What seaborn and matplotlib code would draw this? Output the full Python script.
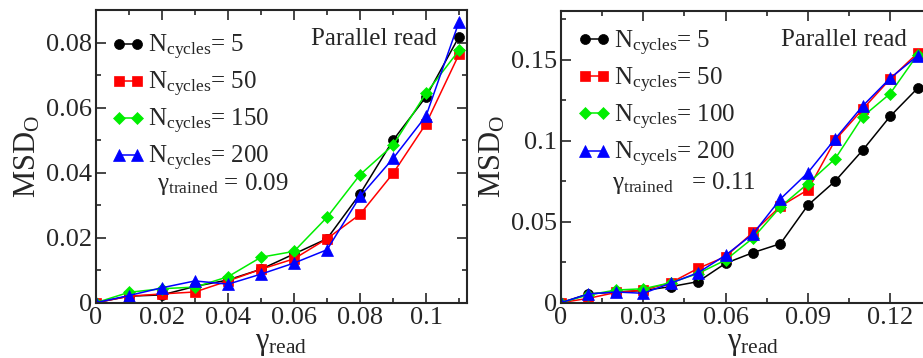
import matplotlib
matplotlib.use("Agg")
import matplotlib.pyplot as plt
from matplotlib.ticker import MultipleLocator, FuncFormatter
import seaborn as sns
import pandas as pd

# ---- data -------------------------------------------------------------
gamma_left = [0.0, 0.01, 0.02, 0.03, 0.04, 0.05, 0.06, 0.07, 0.08, 0.09, 0.10, 0.11]
left_n5 = [0, 0.0020, 0.0024, 0.0050, 0.0070, 0.0103, 0.0150, 0.0197, 0.0335, 0.0500, 0.0634, 0.0819]
left_n50 = [0, 0.0020, 0.0027, 0.0033, 0.0067, 0.0103, 0.0135, 0.0197, 0.0272, 0.0398, 0.0551, 0.0765]
left_n150 = [0, 0.0032, 0.0043, 0.0048, 0.0080, 0.0140, 0.0158, 0.0263, 0.0394, 0.0485, 0.0645, 0.0777]
left_n200 = [0, 0.0022, 0.0046, 0.0067, 0.0057, 0.0088, 0.0122, 0.0163, 0.0327, 0.0444, 0.0575, 0.0865]
left_labels = [r"N$_{\mathrm{cycles}}$= 5", r"N$_{\mathrm{cycles}}$= 50",
               r"N$_{\mathrm{cycles}}$= 150", r"N$_{\mathrm{cycles}}$= 200"]

gamma_right = [0.0, 0.01, 0.02, 0.03, 0.04, 0.05, 0.06, 0.07, 0.08, 0.09, 0.10, 0.11, 0.12, 0.13]
right_n5 = [0, 0.0054, 0.0066, 0.0075, 0.0099, 0.0130, 0.0243, 0.0309, 0.0364, 0.0601, 0.0751, 0.0941, 0.1150, 0.1323]
right_n50 = [0, 0.0027, 0.0063, 0.0078, 0.0123, 0.0212, 0.0284, 0.0434, 0.0595, 0.0696, 0.1004, 0.1194, 0.1380, 0.1540]
right_n100 = [0, 0.0048, 0.0078, 0.0086, 0.0123, 0.0180, 0.0263, 0.0399, 0.0591, 0.0735, 0.0889, 0.1148, 0.1290, 0.1530]
right_n200 = [0, 0.0054, 0.0066, 0.0058, 0.0120, 0.0185, 0.0293, 0.0424, 0.0640, 0.0802, 0.1012, 0.1214, 0.1385, 0.1523]
right_labels = [r"N$_{\mathrm{cycles}}$= 5", r"N$_{\mathrm{cycles}}$= 50",
                r"N$_{\mathrm{cycles}}$= 100", r"N$_{\mathrm{cycels}}$= 200"]

gamma_trained_left = r"γ$_{\mathrm{trained}}$ = 0.09"
gamma_trained_right = r"γ$_{\mathrm{trained}}$   = 0.11"

colors = ["black", "red", "#00ee00", "blue"]
markers = ["o", "s", "D", "^"]
msizes = [7.2, 6.6, 6.4, 8.0]

# ---- style ------------------------------------------------------------
sns.set_style("ticks")
plt.rcParams["font.family"] = ["Liberation Serif", "DejaVu Serif"]
plt.rcParams["mathtext.fontset"] = "custom"
plt.rcParams["mathtext.rm"] = "Liberation Serif"
plt.rcParams["mathtext.it"] = "Liberation Serif:italic"
plt.rcParams["axes.linewidth"] = 1.5

fig = plt.figure(figsize=(9.23, 3.58), dpi=100)
ax1 = fig.add_axes([0.104, 0.1545, 0.4016, 0.8176])
ax2 = fig.add_axes([0.6078, 0.1545, 0.416, 0.8148])


def draw_panel(ax, x, series, labels, xlim, ylim, xmaj, xmin, ymaj, ymin,
               leg_anchor, gtxt, gpos):
    for vals, lab, c, m, ms in zip(series, labels, colors, markers, msizes):
        df = pd.DataFrame({"g": x, "msd": vals})
        sns.lineplot(data=df, x="g", y="msd", ax=ax, color=c, marker=m,
                     markersize=ms, markeredgecolor=c, markeredgewidth=0.5,
                     linewidth=1.1, label=lab)
    ax.set_xlim(*xlim)
    ax.set_ylim(*ylim)
    ax.xaxis.set_major_locator(MultipleLocator(xmaj))
    ax.xaxis.set_minor_locator(MultipleLocator(xmin))
    ax.yaxis.set_major_locator(MultipleLocator(ymaj))
    ax.yaxis.set_minor_locator(MultipleLocator(ymin))
    fmt = FuncFormatter(lambda v, p: ("%.2f" % v).rstrip("0").rstrip(".") if abs(v) > 1e-12 else "0")
    ax.xaxis.set_major_formatter(fmt)
    ax.yaxis.set_major_formatter(fmt)
    ax.tick_params(which="both", direction="in", top=True, right=True,
                   width=1.2, labelsize=19, pad=3)
    ax.tick_params(which="major", length=7)
    ax.tick_params(which="minor", length=3.5)
    for s in ax.spines.values():
        s.set_linewidth(1.5)
    ax.set_xlabel(r"γ$_{\mathrm{read}}$", fontsize=22, labelpad=0)
    ax.set_ylabel(r"MSD$_{\mathrm{O}}$", fontsize=22, labelpad=2)
    ax.legend(loc="upper left", bbox_to_anchor=leg_anchor, frameon=False,
              numpoints=2, handlelength=1.32, handletextpad=0.12,
              labelspacing=0.32, borderaxespad=0.0, borderpad=0.0, fontsize=18)
    ax.text(gpos[0], gpos[1], gtxt, transform=ax.transAxes,
            fontsize=18, ha="left", va="center")


draw_panel(ax1, gamma_left, [left_n5, left_n50, left_n150, left_n200], left_labels,
           (0, 0.1123), (0, 0.0901), 0.02, 0.01, 0.02, 0.01,
           (0.042, 0.922), gamma_trained_left, (0.165, 0.405))
ax1.text(0.92, 0.9, "Parallel read", transform=ax1.transAxes, fontsize=18,
         ha="right", va="center")

draw_panel(ax2, gamma_right, [right_n5, right_n50, right_n100, right_n200], right_labels,
           (0, 0.14), (0, 0.18), 0.03, 0.015, 0.05, 0.025,
           (0.043, 0.94), gamma_trained_right, (0.132, 0.41))
ax2.text(0.90, 0.9, "Parallel read", transform=ax2.transAxes, fontsize=18,
         ha="right", va="center")

fig.savefig("out.png", dpi=100)
